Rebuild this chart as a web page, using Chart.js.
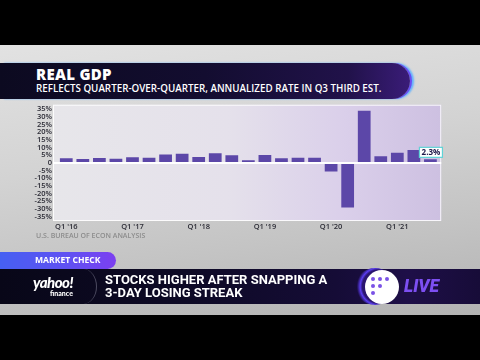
<!DOCTYPE html>
<html><head><meta charset="utf-8">
<script src="https://cdn.jsdelivr.net/npm/chart.js@4.4.0/dist/chart.umd.min.js"></script>
<style>
html,body{margin:0;padding:0;background:#000;}
#stage{position:relative;width:480px;height:360px;overflow:hidden;background:#000;font-family:"Open Sans",sans-serif;}
#bg{position:absolute;left:0;top:45px;width:480px;height:270px;background:linear-gradient(172deg,#e2e2e2 0%,#d3d3d3 40%,#c4c4c4 70%,#b3b3b3 100%);}
#titleBar{position:absolute;left:0;top:63px;width:410px;height:36px;border-radius:0 18px 18px 0;background:linear-gradient(90deg,#0c0a20 0%,#130d30 50%,#21124a 85%,#3a1c78 100%);box-shadow:2px 0 0 #6a4cf2,4px 0 2px #5fb0ff;}
#title{position:absolute;left:36px;top:64px;color:#fff;font-weight:800;font-size:15px;line-height:20px;letter-spacing:0.3px;}
#subtitle{position:absolute;left:36px;top:83px;color:#fff;font-weight:600;font-size:9.8px;line-height:12px;white-space:nowrap;}
#chartBox{position:absolute;left:0;top:95px;width:480px;height:150px;}
#source{position:absolute;left:36px;top:231px;color:#8c8c8c;font-weight:600;font-size:7px;line-height:10px;white-space:nowrap;}
#tag{position:absolute;left:0;top:252px;width:116px;height:17px;border-radius:0 9px 9px 0;background:linear-gradient(90deg,#4660f2 0%,#6150f2 60%,#7c3ff0 100%);}
#tagText{position:absolute;left:35px;top:253px;color:#fff;font-weight:700;font-size:8.6px;line-height:15px;white-space:nowrap;}
#lower{position:absolute;left:0;top:269px;width:480px;height:35px;background:linear-gradient(90deg,#080718 0%,#0e0a26 40%,#150c36 70%,#1e0f48 85%,#170c38 100%);}
#divider{position:absolute;left:70px;top:269px;width:26px;height:35px;border-right:1px solid rgba(200,200,220,0.35);border-radius:0 50% 50% 0;}
#yahoo{position:absolute;left:33px;top:275px;color:#fff;font-family:"Lato",sans-serif;font-weight:900;font-size:15px;line-height:15px;font-style:italic;letter-spacing:-0.5px;}
#finance{position:absolute;left:50px;top:289px;color:#fff;font-family:"Lato",sans-serif;font-weight:900;font-size:7px;line-height:8px;}
#headline{position:absolute;left:105px;top:274px;color:#fff;font-family:"Roboto",sans-serif;font-weight:700;font-size:13px;line-height:12.5px;white-space:nowrap;}
#ring{position:absolute;left:355px;top:268px;width:40px;height:37px;border-radius:50%;background:radial-gradient(circle at 60% 50%,#2a1570 55%,#5a3df0 62%,#1f1050 72%,transparent 74%);}
#circle{position:absolute;left:365px;top:270px;width:34px;height:34px;border-radius:50%;background:#fff;}
.dot{position:absolute;width:4px;height:4px;border-radius:50%;background:#7a52e6;}
#live{position:absolute;left:404px;top:277px;color:#7d4ff2;font-family:"Roboto",sans-serif;font-weight:900;font-style:italic;font-size:17.5px;line-height:18px;}
</style></head>
<body><div id="stage">
<div id="bg"></div>
<div id="titleBar"></div>
<div id="title">REAL GDP</div>
<div id="subtitle">REFLECTS QUARTER-OVER-QUARTER, ANNUALIZED RATE IN Q3 THIRD EST.</div>
<div id="chartBox"><canvas id="c"></canvas></div>
<div id="source">U.S. BUREAU OF ECON ANALYSIS</div>
<div id="tag"></div>
<div id="tagText">MARKET CHECK</div>
<div id="lower"></div>
<div id="divider"></div>
<div id="yahoo">yahoo!</div>
<div id="finance">finance</div>
<div id="headline">STOCKS HIGHER AFTER SNAPPING A<br>3-DAY LOSING STREAK</div>
<div id="ring"></div>
<div id="circle"></div>
<div class="dot" style="left:371px;top:277px"></div>
<div class="dot" style="left:378px;top:277px"></div>
<div class="dot" style="left:385px;top:277px"></div>
<div class="dot" style="left:371px;top:284px"></div>
<div class="dot" style="left:378px;top:284px"></div>
<div class="dot" style="left:371px;top:291px"></div>
<div id="live">LIVE</div>
</div>
<script>
const quarters = ["Q1 '16","Q2 '16","Q3 '16","Q4 '16","Q1 '17","Q2 '17","Q3 '17","Q4 '17",
  "Q1 '18","Q2 '18","Q3 '18","Q4 '18","Q1 '19","Q2 '19","Q3 '19","Q4 '19",
  "Q1 '20","Q2 '20","Q3 '20","Q4 '20","Q1 '21","Q2 '21","Q3 '21"];
const gdpGrowth = [3.0,2.6,3.2,2.7,3.6,3.4,5.5,5.9,3.8,6.2,4.9,1.7,5.1,3.0,3.4,3.4,-5.6,-29.0,33.9,4.3,6.6,8.3,2.3];
const yTickValues = [35,30,25,20,15,10,5,0,-5,-10,-15,-20,-25,-30,-35];
const xTickLabels = ["Q1 '16","Q1 '17","Q1 '18","Q1 '19","Q1 '20","Q1 '21"];
const latestLabel = "2.3%";

const panelPlugin = {
  id: 'panel',
  beforeDraw(chart) {
    const {ctx, chartArea: a} = chart;
    const x0 = a.left - 5, x1 = a.right + 2.5, y0 = a.top, y1 = a.bottom;
    const g = ctx.createLinearGradient(x0, 0, x1, 0);
    g.addColorStop(0, '#e7e6ea');
    g.addColorStop(0.45, '#e5e1eb');
    g.addColorStop(0.75, '#dacfea');
    g.addColorStop(1, '#cdc0e1');
    ctx.save();
    ctx.fillStyle = g;
    ctx.fillRect(x0, y0, x1 - x0, y1 - y0);
    ctx.strokeStyle = 'rgba(255,255,255,0.85)';
    ctx.lineWidth = 1;
    ctx.strokeRect(x0 + 0.5, y0 + 0.5, x1 - x0 - 1, y1 - y0 - 1);
    ctx.restore();
  },
  afterDatasetsDraw(chart) {
    const {ctx, chartArea: a} = chart;
    const y = chart.scales.y.getPixelForValue(0);
    ctx.save();
    ctx.strokeStyle = '#ffffff';
    ctx.lineWidth = 2;
    ctx.beginPath();
    ctx.moveTo(a.left - 5, y);
    ctx.lineTo(a.right + 2.5, y);
    ctx.stroke();
    const meta = chart.getDatasetMeta(0);
    const bar = meta.data[meta.data.length - 1];
    const bw = 23, bh = 10;
    const bx = bar.x - bw / 2 + 0.5, by = bar.y - 2 - bh;
    ctx.fillStyle = '#ffffff';
    ctx.fillRect(bx, by, bw, bh);
    ctx.strokeStyle = '#5fd3d6';
    ctx.lineWidth = 1.2;
    ctx.strokeRect(bx, by, bw, bh);
    ctx.fillStyle = '#1c1648';
    ctx.font = '700 8px "Open Sans"';
    ctx.textAlign = 'center';
    ctx.textBaseline = 'middle';
    ctx.fillText(latestLabel, bx + bw / 2, by + bh / 2 + 0.5);
    ctx.restore();
  }
};

new Chart(document.getElementById('c'), {
  type: 'bar',
  data: {
    labels: quarters,
    datasets: [{
      data: gdpGrowth,
      backgroundColor: '#5c47a8',
      borderWidth: 0,
      categoryPercentage: 1,
      barPercentage: 0.77
    }]
  },
  options: {
    responsive: true,
    maintainAspectRatio: false,
    animation: false,
    devicePixelRatio: 1,
    layout: { padding: { left: 0, right: 41.3, top: 7, bottom: 0 } },
    plugins: { legend: { display: false }, tooltip: { enabled: false } },
    scales: {
      x: {
        grid: { display: false, drawTicks: false },
        border: { display: false },
        afterFit(s) { s.height = 24; },
        ticks: {
          autoSkip: false, maxRotation: 0, padding: 1,
          color: '#2c2c36',
          font: { family: 'Open Sans', size: 7.5, weight: '600' },
          callback(v, i) { const l = quarters[i]; return xTickLabels.includes(l) ? l : ''; }
        }
      },
      y: {
        min: -37.8, max: 37.8,
        grid: { display: false, drawTicks: false },
        border: { display: false },
        afterFit(s) { s.width = 58; },
        afterBuildTicks(s) { s.ticks = yTickValues.map(v => ({ value: v })); },
        ticks: {
          autoSkip: false,
          padding: 6,
          color: '#2c2c36',
          font: { family: 'Open Sans', size: 7.5, weight: '600', lineHeight: 1 },
          callback(v) { return v === 0 ? '0' : v + '%'; }
        }
      }
    }
  },
  plugins: [panelPlugin]
});
</script>
</body></html>
